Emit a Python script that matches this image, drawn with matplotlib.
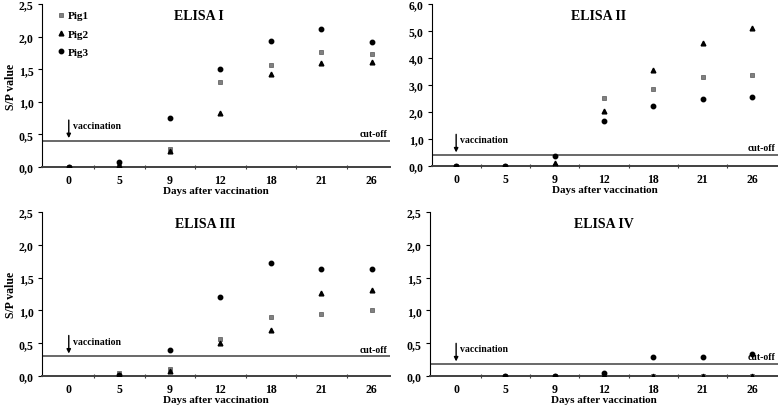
import numpy as np
import matplotlib
matplotlib.use("Agg")
import matplotlib.pyplot as plt
from matplotlib.ticker import FuncFormatter, FixedLocator

plt.rcParams['font.family'] = ['Liberation Serif', 'DejaVu Serif']
plt.rcParams['font.weight'] = 'bold'

# ---- data -------------------------------------------------------------------
days = ["0", "5", "9", "12", "18", "21", "26"]
nan = np.nan

# ELISA I
e1_pig1 = [0.00, 0.02, 0.28, 1.31, 1.56, 1.77, 1.73]
e1_pig2 = [0.00, 0.03, 0.25, 0.83, 1.42, 1.59, 1.61]
e1_pig3 = [0.00, 0.08, 0.75, 1.50, 1.94, 2.11, 1.91]
# ELISA II
e2_pig1 = [0.00, 0.00, 0.00, 2.52, 2.86, 3.29, 3.37]
e2_pig2 = [0.00, 0.00, 0.10, 2.02, 3.55, 4.57, 5.11]
e2_pig3 = [0.00, 0.00, 0.38, 1.67, 2.21, 2.48, 2.55]
# ELISA III
e3_pig1 = [nan, 0.04, 0.10, 0.56, 0.90, 0.94, 1.00]
e3_pig2 = [nan, 0.02, 0.07, 0.51, 0.70, 1.27, 1.31]
e3_pig3 = [nan, 0.01, 0.39, 1.21, 1.72, 1.63, 1.63]
# ELISA IV
e4_pig1 = [nan, 0.00, 0.00, 0.00, 0.00, 0.00, 0.00]
e4_pig2 = [nan, 0.00, 0.00, 0.01, 0.00, 0.00, 0.00]
e4_pig3 = [nan, 0.00, 0.00, 0.04, 0.29, 0.29, 0.34]

titles = ["ELISA I", "ELISA II", "ELISA III", "ELISA IV"]
cutoffs = [0.40, 0.40, 0.30, 0.18]
ymax = [2.5, 6.0, 2.5, 2.5]
ystep = [0.5, 1.0, 0.5, 0.5]

# ---- layout -----------------------------------------------------------------
fig = plt.figure(figsize=(7.78, 4.06), dpi=100)
W, H = 778.0, 406.0
# (left px, right px, top px, bottom px, xlim)
boxes = [
    (42, 390, 5, 168, (-0.53, 6.36)),
    (432, 778, 5, 167, (-0.49, 6.53)),
    (42, 390, 213, 377, (-0.53, 6.36)),
    (430, 778, 213, 377, (-0.53, 6.53)),
]
series = [
    (e1_pig1, e1_pig2, e1_pig3),
    (e2_pig1, e2_pig2, e2_pig3),
    (e3_pig1, e3_pig2, e3_pig3),
    (e4_pig1, e4_pig2, e4_pig3),
]
title_x = [0.45, 0.48, 0.47, 0.50]
x = np.arange(len(days))
comma = FuncFormatter(lambda v, p: ("%.1f" % v).replace(".", ","))

for i, (l, r, t, b, xl) in enumerate(boxes):
    ax = fig.add_axes([l / W, 1 - b / H, (r - l) / W, (b - t) / H])
    p1, p2, p3 = series[i]
    ax.plot(x, p1, "s", ms=3.2, mfc="#808080", mec="#555555", mew=0.5, label="Pig1", zorder=4)
    ax.plot(x, p2, "^", ms=3.4, color="black", label="Pig2", zorder=4)
    ax.plot(x, p3, "o", ms=3.2, color="black", label="Pig3", zorder=4)

    ax.set_xlim(*xl)
    ax.set_ylim(0, ymax[i])
    ax.set_xticks(x)
    ax.set_xticklabels(days)
    ax.xaxis.set_minor_locator(FixedLocator(x[:-1] + 0.5))
    ax.tick_params(axis="x", which="major", length=0, pad=5, labelsize=8.5)
    ax.tick_params(axis="x", which="minor", length=3, width=0.8, direction="inout", color="#404040")
    ax.set_yticks(np.arange(0, ymax[i] + 0.01, ystep[i]))
    ax.yaxis.set_major_formatter(comma)
    ax.tick_params(axis="y", length=3, width=0.8, labelsize=8.5, pad=3)
    for s in ["top", "right"]:
        ax.spines[s].set_visible(False)
    ax.spines["bottom"].set_color("#404040")
    ax.spines["bottom"].set_linewidth(1.4)
    ax.spines["left"].set_linewidth(0.8)

    # cut-off line
    ax.axhline(cutoffs[i], color="#404040", lw=1.1, zorder=2)
    ax.annotate("cut-off", xy=(1.0, cutoffs[i]), xycoords=("axes fraction", "data"),
                xytext=(-2, 2), textcoords="offset points", ha="right", va="bottom",
                fontsize=7, fontweight="bold")
    # vaccination arrow
    ax.annotate("", xy=(0, cutoffs[i]), xytext=(0, 15), textcoords="offset points",
                arrowprops=dict(arrowstyle="-|>", color="black", lw=1.0,
                                mutation_scale=6, shrinkA=0, shrinkB=2))
    ax.annotate("vaccination", xy=(0, cutoffs[i]), xytext=(3, 11), textcoords="offset points",
                ha="left", va="center", fontsize=7, fontweight="bold")

    ax.text(title_x[i], 0.97, titles[i], transform=ax.transAxes, ha="center", va="top",
            fontsize=10, fontweight="bold")
    ax.set_xlabel("Days after vaccination", fontsize=8, fontweight="bold", labelpad=0)
    if i in (0, 2):
        ax.set_ylabel("S/P value", fontsize=8.5, fontweight="bold", labelpad=1)
    if i == 0:
        ax.legend(loc="upper left", bbox_to_anchor=(0.02, 1.0), frameon=False,
                  fontsize=8, handletextpad=0.1, handlelength=1.0,
                  labelspacing=0.75, borderaxespad=0.2)

fig.savefig("out.png", dpi=100)
